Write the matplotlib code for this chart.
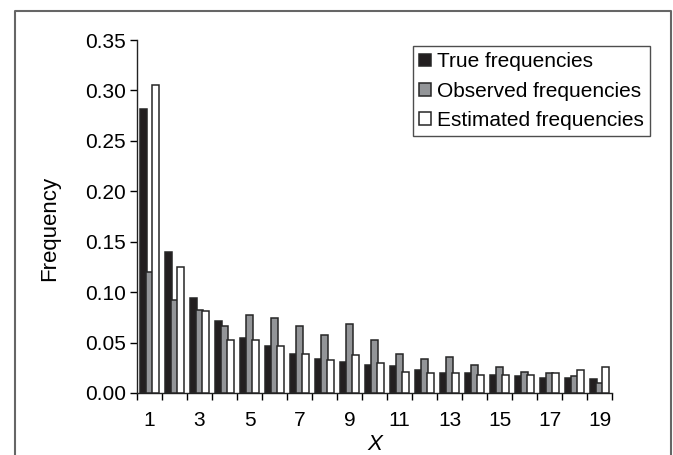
import matplotlib
matplotlib.use("Agg")
import matplotlib.pyplot as plt
from matplotlib.lines import Line2D
import numpy as np

plt.rcParams["font.family"] = ["Liberation Sans", "DejaVu Sans"]

x_values = list(range(1, 20))
true_freq = [0.282, 0.140, 0.094, 0.071, 0.055, 0.047, 0.039, 0.034, 0.031, 0.028,
             0.027, 0.023, 0.020, 0.020, 0.018, 0.017, 0.015, 0.015, 0.014]
observed_freq = [0.120, 0.092, 0.082, 0.066, 0.077, 0.074, 0.066, 0.058, 0.068, 0.053,
                 0.039, 0.034, 0.036, 0.028, 0.026, 0.021, 0.020, 0.017, 0.010]
estimated_freq = [0.305, 0.125, 0.081, 0.053, 0.053, 0.047, 0.039, 0.033, 0.038, 0.030,
                  0.021, 0.020, 0.020, 0.018, 0.018, 0.018, 0.020, 0.023, 0.026]
tick_labels = [str(v) for v in x_values]

W, H = 673, 455
fig = plt.figure(figsize=(W / 100, H / 100), dpi=100)
ax = fig.add_axes([137 / W, 62 / H, 475 / W, 353 / H])

pos = np.arange(len(x_values))
w = 0.27
edge = "#262626"
ax.bar(pos - 0.23, true_freq, width=w, color="#231f20", edgecolor=edge,
       linewidth=1.1, label="True frequencies", zorder=2)
ax.bar(pos, observed_freq, width=w, color="#939598", edgecolor=edge,
       linewidth=1.1, label="Observed frequencies", zorder=3)
ax.bar(pos + 0.23, estimated_freq, width=w, color="white", edgecolor=edge,
       linewidth=1.1, label="Estimated frequencies", zorder=4)

ax.set_xlim(-0.5, len(x_values) - 0.5)
ax.set_ylim(0, 0.35)
ax.set_yticks(np.arange(0, 0.351, 0.05))
ax.set_yticklabels(["%.2f" % v for v in np.arange(0, 0.351, 0.05)])
ax.set_xticks(pos[::2])
ax.set_xticklabels(tick_labels[::2])
ax.set_xticks(np.arange(-0.5, len(x_values), 1.0), minor=True)
ax.tick_params(axis="x", which="major", length=0, pad=13, labelsize=15)
ax.tick_params(axis="x", which="minor", length=5, width=1, direction="out")
ax.tick_params(axis="y", length=5, width=1, direction="out", pad=3, labelsize=15)

for s in ["top", "right"]:
    ax.spines[s].set_visible(False)
for s in ["left", "bottom"]:
    ax.spines[s].set_linewidth(1)
    ax.spines[s].set_color("#222222")

ax.set_xlabel("X", fontsize=16, style="italic")
ax.xaxis.set_label_coords(0.5, -0.115)
ax.set_ylabel("Frequency", fontsize=16)
ax.yaxis.set_label_coords(-0.162, 0.465)

leg = ax.legend(loc="upper right", bbox_to_anchor=(650 / W, 1 - 46 / H),
                bbox_transform=fig.transFigure, borderaxespad=0, fancybox=False,
                fontsize=15, handlelength=0.55, handleheight=0.55,
                handletextpad=0.3, labelspacing=0.5, borderpad=0.3)
leg.get_frame().set_edgecolor("#222222")
leg.get_frame().set_linewidth(1)

# outer frame, open at the bottom
fx = [15 / W, 15 / W, 671 / W, 671 / W]
fy = [0, 1 - 11 / H, 1 - 11 / H, 0]
fig.add_artist(Line2D(fx, fy, transform=fig.transFigure, color="#666666", linewidth=1.5))

fig.savefig("out.png", dpi=100)
